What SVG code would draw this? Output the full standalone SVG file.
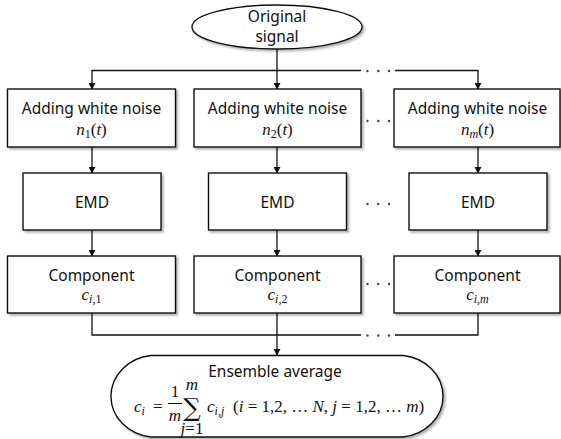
<svg xmlns="http://www.w3.org/2000/svg" width="561" height="439" viewBox="0 0 561 439">
<defs>
<style>
.box{fill:#fff;stroke:#111;stroke-width:1.4;filter:url(#sh)}
.lbl{font-family:"Noto Sans","Open Sans",sans-serif;font-size:15.5px;fill:#111;text-anchor:middle}
.math{font-family:"Liberation Serif","DejaVu Serif",serif;font-style:italic;font-size:17px;fill:#111}
.up{font-family:"Liberation Serif","DejaVu Serif",serif;font-style:normal}
.con{fill:none;stroke:#111;stroke-width:1.3}
.dot{fill:#444}
</style>
<filter id="sh" x="-10%" y="-10%" width="130%" height="130%">
<feDropShadow dx="2" dy="2" stdDeviation="1.2" flood-color="#000" flood-opacity="0.3"/>
</filter>
<marker id="ar" markerWidth="7" markerHeight="7" refX="6" refY="3.5" orient="auto" markerUnits="userSpaceOnUse">
<path d="M0,0 L6.5,3.5 L0,7 Z" fill="#111"/>
</marker>
</defs>
<rect width="561" height="439" fill="#fff"/>

<g id="connectors">
<path class="con" d="M277,49 V89" marker-end="url(#ar)"/>
<path class="con" d="M361,70.5 H92 V89" marker-end="url(#ar)"/>
<path class="con" d="M395,70.5 H478 V89" marker-end="url(#ar)"/>
<path class="con" d="M92,147 V173" marker-end="url(#ar)"/>
<path class="con" d="M277,147 V173" marker-end="url(#ar)"/>
<path class="con" d="M478,147 V173" marker-end="url(#ar)"/>
<path class="con" d="M92,230 V256" marker-end="url(#ar)"/>
<path class="con" d="M277,230 V256" marker-end="url(#ar)"/>
<path class="con" d="M478,230 V256" marker-end="url(#ar)"/>
<path class="con" d="M92,313 V335 H361"/>
<path class="con" d="M395,335 H478 V313"/>
<path class="con" d="M277,313 V355" marker-end="url(#ar)"/>
<g class="dot">
<circle cx="367.5" cy="71" r="1.2"/><circle cx="378.3" cy="71" r="1.2"/><circle cx="389" cy="71" r="1.2"/>
<circle cx="367.5" cy="121" r="1.2"/><circle cx="378.3" cy="121" r="1.2"/><circle cx="389" cy="121" r="1.2"/>
<circle cx="367.5" cy="204" r="1.2"/><circle cx="378.3" cy="204" r="1.2"/><circle cx="389" cy="204" r="1.2"/>
<circle cx="367.5" cy="284" r="1.2"/><circle cx="378.3" cy="284" r="1.2"/><circle cx="389" cy="284" r="1.2"/>
<circle cx="367.5" cy="335.5" r="1.2"/><circle cx="378.3" cy="335.5" r="1.2"/><circle cx="389" cy="335.5" r="1.2"/>
</g>
</g>

<g id="original">
<ellipse class="box" cx="277" cy="27" rx="85" ry="22"/>
<text class="lbl" x="277" y="22" font-size="15">Original</text>
<text class="lbl" x="277" y="42" font-size="15">signal</text>
</g>

<g id="noise1">
<rect class="box" x="7.5" y="89" width="168" height="58"/>
<text class="lbl" x="91.5" y="114">Adding white noise</text>
<text class="math" x="91.5" y="135" text-anchor="middle">n<tspan class="up" font-size="12" dy="3">1</tspan><tspan class="up" dy="-3">(</tspan>t<tspan class="up">)</tspan></text>
</g>
<g id="noise2">
<rect class="box" x="194" y="89" width="167" height="58"/>
<text class="lbl" x="277.5" y="114">Adding white noise</text>
<text class="math" x="277.5" y="135" text-anchor="middle">n<tspan class="up" font-size="12" dy="3">2</tspan><tspan class="up" dy="-3">(</tspan>t<tspan class="up">)</tspan></text>
</g>
<g id="noisem">
<rect class="box" x="394" y="89" width="166" height="58"/>
<text class="lbl" x="477.5" y="114">Adding white noise</text>
<text class="math" x="477.5" y="135" text-anchor="middle">n<tspan font-size="12" dy="3">m</tspan><tspan class="up" dy="-3">(</tspan>t<tspan class="up">)</tspan></text>
</g>

<g id="emd1">
<rect class="box" x="23" y="173" width="138" height="57"/>
<text class="lbl" x="92" y="208">EMD</text>
</g>
<g id="emd2">
<rect class="box" x="208.5" y="173" width="138" height="57"/>
<text class="lbl" x="277.5" y="208">EMD</text>
</g>
<g id="emdm">
<rect class="box" x="409" y="173" width="138" height="57"/>
<text class="lbl" x="478" y="208">EMD</text>
</g>

<g id="comp1">
<rect class="box" x="7.5" y="256" width="168" height="57"/>
<text class="lbl" x="91.5" y="281">Component</text>
<text class="math" x="91.5" y="300" text-anchor="middle">c<tspan font-size="12" dy="3">i<tspan class="up">,1</tspan></tspan></text>
</g>
<g id="comp2">
<rect class="box" x="194" y="256" width="167" height="57"/>
<text class="lbl" x="277.5" y="281">Component</text>
<text class="math" x="277.5" y="300" text-anchor="middle">c<tspan font-size="12" dy="3">i<tspan class="up">,2</tspan></tspan></text>
</g>
<g id="compm">
<rect class="box" x="394" y="256" width="166" height="57"/>
<text class="lbl" x="477.5" y="281">Component</text>
<text class="math" x="477.5" y="300" text-anchor="middle">c<tspan font-size="12" dy="3">i<tspan class="up">,</tspan>m</tspan></text>
</g>

<g id="ensemble">
<path class="box" d="M151,355.5 H403 A45,41 0 0 1 403,437 H151 A45,41 0 0 1 151,355.5 Z"/>
<text class="lbl" x="275" y="377" font-size="19">Ensemble average</text>
<text class="math" x="134" y="412">c<tspan font-size="12" dy="3">i</tspan></text>
<text class="math" x="153" y="412"><tspan class="up">=</tspan></text>
<text class="math" x="175" y="397" text-anchor="middle"><tspan class="up">1</tspan></text>
<line x1="168" y1="403.5" x2="182" y2="403.5" stroke="#111" stroke-width="1"/>
<text class="math" x="175" y="421" text-anchor="middle">m</text>
<text x="192" y="416" text-anchor="middle" font-family="'DejaVu Serif',serif" font-size="24.5" fill="#111">∑</text>
<text class="math" x="192" y="390" text-anchor="middle" font-size="12">m</text>
<text class="math" x="192" y="434" text-anchor="middle" font-size="12">j<tspan class="up">=1</tspan></text>
<text class="math" x="207" y="412">c<tspan font-size="12" dy="3">i<tspan class="up">,</tspan>j</tspan></text>
<text class="math" x="233" y="412"><tspan class="up">(</tspan>i <tspan class="up">= 1,2, … </tspan>N<tspan class="up">, </tspan>j <tspan class="up">= 1,2, … </tspan>m<tspan class="up">)</tspan></text>
</g>
</svg>
